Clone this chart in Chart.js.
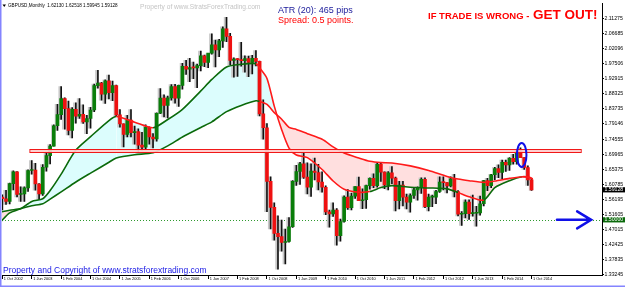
<!DOCTYPE html>
<html>
<head>
<meta charset="utf-8">
<title>GBPUSD Monthly</title>
<script src="https://cdn.jsdelivr.net/npm/chart.js@4.4.1/dist/chart.umd.min.js"></script>
<style>
  html, body { margin: 0; padding: 0; background: #fff; }
  canvas { display: block; }
</style>
</head>
<body>
<canvas id="chart" width="625" height="287"></canvas>
<script>
// GBPUSD monthly candles, index 0 = Oct 2002 ... index 144 = Oct 2014
const opens = [
  1.5690, 1.5640, 1.5560,
  1.6100, 1.6460, 1.5770, 1.5790, 1.5970, 1.6500, 1.6510, 1.6090, 1.5790, 1.6600, 1.6950, 1.7240,
  1.7860, 1.8200, 1.8690, 1.8380, 1.7720, 1.8360, 1.8150, 1.8210, 1.7980, 1.8080, 1.8340, 1.9080,
  1.9160, 1.8820, 1.9230, 1.8870, 1.9080, 1.8190, 1.7920, 1.7600, 1.8030, 1.7650, 1.7680, 1.7270,
  1.7210, 1.7810, 1.7520, 1.7460, 1.8240, 1.8700, 1.8480, 1.8710, 1.9050, 1.8700, 1.9090, 1.9670,
  1.9580, 1.9630, 1.9620, 1.9690, 1.9990, 1.9790, 2.0070, 2.0320, 2.0170, 2.0440, 2.0810, 2.0580,
  1.9850, 1.9890, 1.9870, 1.9840, 1.9900, 1.9790, 1.9910, 1.9820, 1.8220, 1.7800, 1.6170, 1.5380,
  1.4590, 1.4490, 1.4310, 1.4340, 1.4790, 1.6170, 1.6470, 1.6700, 1.6300, 1.5990, 1.6480, 1.6440,
  1.6150, 1.5990, 1.5240, 1.5180, 1.5300, 1.4520, 1.4950, 1.5690, 1.5370, 1.5720, 1.6010, 1.5580,
  1.5610, 1.6040, 1.6260, 1.6040, 1.6690, 1.6450, 1.6060, 1.6430, 1.6270, 1.5580, 1.6060, 1.5690,
  1.5540, 1.5740, 1.5910, 1.5990, 1.6230, 1.5400, 1.5690, 1.5690, 1.5860, 1.6150, 1.6130, 1.6030,
  1.6250, 1.5860, 1.5170, 1.5190, 1.5540, 1.5190, 1.5200, 1.5210, 1.5490, 1.6190, 1.6040, 1.6370,
  1.6560, 1.6440, 1.6750, 1.6670, 1.6870, 1.6770, 1.7100, 1.6890, 1.6590, 1.6213
];
const highs = [
  1.5760, 1.5900, 1.6120,
  1.6490, 1.6470, 1.6000, 1.6000, 1.6520, 1.6800, 1.6720, 1.6100, 1.6680, 1.7050, 1.7290, 1.7890,
  1.8510, 1.9050, 1.8710, 1.8610, 1.8410, 1.8560, 1.8690, 1.8500, 1.8180, 1.8420, 1.9130, 1.9550,
  1.9180, 1.9260, 1.9400, 1.9220, 1.9100, 1.8350, 1.7920, 1.8180, 1.8350, 1.7850, 1.7770, 1.7660,
  1.7890, 1.7830, 1.7620, 1.8250, 1.8990, 1.8800, 1.8760, 1.9110, 1.9120, 1.9100, 1.9760, 1.9850,
  1.9910, 1.9800, 1.9740, 2.0130, 2.0010, 2.0050, 2.0660, 2.0470, 2.0490, 2.0870, 2.1160, 2.0670,
  1.9930, 1.9900, 2.0400, 1.9990, 1.9980, 2.0000, 2.0150, 1.9830, 1.8650, 1.7930, 1.6310, 1.5520,
  1.5120, 1.4990, 1.4720, 1.5070, 1.6190, 1.6660, 1.6750, 1.7040, 1.6730, 1.6700, 1.6880, 1.6690,
  1.6460, 1.6030, 1.5300, 1.5520, 1.5340, 1.5020, 1.5730, 1.5920, 1.5810, 1.6010, 1.6300, 1.5940,
  1.6060, 1.6280, 1.6400, 1.6740, 1.6750, 1.6460, 1.6470, 1.6620, 1.6300, 1.6170, 1.6170, 1.5780,
  1.5790, 1.5960, 1.6000, 1.6280, 1.6280, 1.5780, 1.5750, 1.5900, 1.6310, 1.6310, 1.6130, 1.6310,
  1.6380, 1.5890, 1.5250, 1.5610, 1.5610, 1.5750, 1.5410, 1.5720, 1.6200, 1.6260, 1.6380, 1.6600,
  1.6670, 1.6820, 1.6820, 1.6890, 1.6990, 1.7110, 1.7190, 1.6890, 1.6640, 1.6252
];
const lows = [
  1.5300, 1.5470, 1.5480,
  1.5910, 1.5700, 1.5560, 1.5560, 1.5860, 1.6390, 1.5900, 1.5620, 1.5740, 1.6480, 1.6700, 1.7240,
  1.7720, 1.8050, 1.7760, 1.7580, 1.7490, 1.7940, 1.8080, 1.7930, 1.7620, 1.7790, 1.8290, 1.9000,
  1.8640, 1.8540, 1.8680, 1.8620, 1.8150, 1.7820, 1.7220, 1.7520, 1.7520, 1.7300, 1.7060, 1.7120,
  1.7130, 1.7300, 1.7190, 1.7390, 1.8230, 1.8130, 1.8100, 1.8640, 1.8550, 1.8450, 1.8970, 1.9420,
  1.9200, 1.9290, 1.9020, 1.9530, 1.9660, 1.9630, 2.0040, 1.9650, 1.9960, 2.0240, 2.0420, 1.9720,
  1.9340, 1.9360, 1.9670, 1.9490, 1.9350, 1.9440, 1.9680, 1.8160, 1.7450, 1.5250, 1.4720, 1.4380,
  1.3500, 1.4050, 1.3660, 1.4320, 1.4770, 1.6050, 1.6080, 1.6260, 1.5790, 1.5710, 1.6210, 1.5910,
  1.5840, 1.5160, 1.4780, 1.5100, 1.4230, 1.4350, 1.4930, 1.5320, 1.5300, 1.5650, 1.5580, 1.5340,
  1.5350, 1.5930, 1.5980, 1.5990, 1.6170, 1.5950, 1.5910, 1.6100, 1.5270, 1.5330, 1.5420, 1.5330,
  1.5230, 1.5650, 1.5600, 1.5800, 1.5370, 1.5270, 1.5400, 1.5490, 1.5830, 1.5910, 1.5820, 1.6000,
  1.5700, 1.5120, 1.4830, 1.5060, 1.5010, 1.5110, 1.4810, 1.5140, 1.5420, 1.5890, 1.5980, 1.6220,
  1.6280, 1.6250, 1.6470, 1.6500, 1.6690, 1.6690, 1.6890, 1.6530, 1.6050, 1.5895
];
const closes = [
  1.5640, 1.5560, 1.6100,
  1.6460, 1.5770, 1.5790, 1.5970, 1.6500, 1.6510, 1.6090, 1.5790, 1.6600, 1.6950, 1.7240, 1.7860,
  1.8200, 1.8690, 1.8380, 1.7720, 1.8360, 1.8150, 1.8210, 1.7980, 1.8080, 1.8340, 1.9080, 1.9160,
  1.8820, 1.9230, 1.8870, 1.9080, 1.8190, 1.7920, 1.7600, 1.8030, 1.7650, 1.7680, 1.7270, 1.7210,
  1.7810, 1.7520, 1.7460, 1.8240, 1.8700, 1.8480, 1.8710, 1.9050, 1.8700, 1.9090, 1.9670, 1.9580,
  1.9630, 1.9620, 1.9690, 1.9990, 1.9790, 2.0070, 2.0320, 2.0170, 2.0440, 2.0810, 2.0580, 1.9850,
  1.9890, 1.9870, 1.9840, 1.9900, 1.9790, 1.9910, 1.9820, 1.8220, 1.7800, 1.6170, 1.5380, 1.4590,
  1.4490, 1.4310, 1.4340, 1.4790, 1.6170, 1.6470, 1.6700, 1.6300, 1.5990, 1.6480, 1.6440, 1.6150,
  1.5990, 1.5240, 1.5180, 1.5300, 1.4520, 1.4950, 1.5690, 1.5370, 1.5720, 1.6010, 1.5580, 1.5610,
  1.6040, 1.6260, 1.6040, 1.6690, 1.6450, 1.6060, 1.6430, 1.6270, 1.5580, 1.6060, 1.5690, 1.5540,
  1.5740, 1.5910, 1.5990, 1.6230, 1.5400, 1.5690, 1.5690, 1.5860, 1.6150, 1.6130, 1.6030, 1.6250,
  1.5860, 1.5170, 1.5190, 1.5540, 1.5190, 1.5200, 1.5210, 1.5490, 1.6190, 1.6040, 1.6370, 1.6560,
  1.6440, 1.6750, 1.6670, 1.6870, 1.6770, 1.7100, 1.6890, 1.6590, 1.6210, 1.5913
];

// the two moving averages (month index -> price)
const maMonths = [-0.5, 2, 5, 8, 11, 13, 16, 20, 24, 29, 31, 36, 41, 45, 49, 54, 57, 61, 65, 69, 70, 72, 74, 76, 78, 80,
  83, 87, 90, 93, 97, 100, 103, 106, 111, 116, 121, 124, 127, 131, 134, 138, 141.5, 143.5, 144.3];
const fastMA = [1.494, 1.521, 1.534, 1.556, 1.564, 1.589, 1.639, 1.712, 1.753, 1.802, 1.814, 1.797, 1.780, 1.805, 1.836,
  1.892, 1.927, 1.965, 1.973, 1.975, 1.962, 1.930, 1.845, 1.774, 1.718, 1.697, 1.689, 1.653, 1.618, 1.593, 1.584,
  1.586, 1.598, 1.604, 1.599, 1.597, 1.594, 1.583, 1.570, 1.560, 1.598, 1.619, 1.631, 1.629, 1.624];
const slowMA = [1.524, 1.529, 1.534, 1.543, 1.549, 1.563, 1.585, 1.615, 1.642, 1.675, 1.688, 1.698, 1.704, 1.725, 1.752,
  1.781, 1.798, 1.829, 1.848, 1.862, 1.860, 1.851, 1.826, 1.806, 1.781, 1.775, 1.762, 1.745, 1.722, 1.703, 1.688,
  1.678, 1.674, 1.673, 1.664, 1.650, 1.632, 1.624, 1.619, 1.614, 1.618, 1.626, 1.631, 1.628, 1.624];

// axis ticks
const xTickMonths = [0, 8, 16, 24, 32, 40, 48, 56, 64, 72, 80, 88, 96, 104, 112, 120, 128, 136, 144];
const xTickLabels = ['1 Oct 2002', '1 Jun 2003', '1 Feb 2004', '1 Oct 2004', '1 Jun 2005', '1 Feb 2006',
  '1 Oct 2006', '1 Jun 2007', '1 Feb 2008', '1 Oct 2008', '1 Jun 2009', '1 Feb 2010', '1 Oct 2010',
  '1 Jun 2011', '1 Feb 2012', '1 Oct 2012', '1 Jun 2013', '1 Feb 2014', '1 Oct 2014'];
const yTickValues = [2.11275, 2.06685, 2.02096, 1.97506, 1.92915, 1.88325, 1.83735, 1.79146, 1.74555,
  1.69965, 1.65375, 1.60785, 1.56195, 1.51605, 1.47015, 1.42425, 1.37835, 1.33245];

// drawn objects
const zonePrices = [1.7168, 1.7048];
const zoneMonths = [7.5, 157.5];
const levelPrice = 1.5;
const circleMonth = 141.3;
const circlePrice = 1.6973;
const arrowMonths = [150.9, 160.2];
const lastPrice = 1.59128;

const GREEN = '#0b6a0b';
const RED = '#ff1a1a';
const fastRedSpans = [[30.5, 41.5], [69.3, 99.5], [123.2, 131], [142.4, 150]];
const slowRedSpans = [[69.8, 150]];

function inSpans(spans, m) {
    return spans.some(s => m >= s[0] && m <= s[1]);
}
function segColor(spans) {
    return c => inSpans(spans, (c.p0.parsed.x + c.p1.parsed.x) / 2) ? RED : GREEN;
}

const bodyData = opens.map((o, i) => ({x: i, y: [o, closes[i]]}));
const wickData = opens.map((o, i) => ({x: i, y: [lows[i], highs[i]]}));
const shadowData = opens.map((o, i) => ({x: i - 0.38, y: [lows[i], highs[i]]}));

const overlays = {
    id: 'overlays',
    beforeDatasetsDraw(chart) {
        const {ctx, chartArea: a, scales: {x, y}} = chart;
        ctx.save();
        ctx.strokeStyle = '#2f9a2f';
        ctx.lineWidth = 1;
        ctx.setLineDash([1, 2]);
        const ly = Math.round(y.getPixelForValue(levelPrice)) + 0.5;
        ctx.beginPath();
        ctx.moveTo(a.left, ly);
        ctx.lineTo(a.right, ly);
        ctx.stroke();
        ctx.restore();
    },
    afterDatasetsDraw(chart) {
        const {ctx, scales: {x, y}} = chart;
        ctx.save();
        // horizontal zone
        const zx0 = x.getPixelForValue(zoneMonths[0]);
        const zx1 = x.getPixelForValue(zoneMonths[1]);
        const zy0 = Math.round(y.getPixelForValue(zonePrices[0])) + 0.5;
        const zy1 = Math.round(y.getPixelForValue(zonePrices[1])) + 0.5;
        ctx.fillStyle = 'rgba(255, 235, 235, 0.85)';
        ctx.fillRect(zx0, zy0, zx1 - zx0, zy1 - zy0);
        ctx.strokeStyle = '#f01818';
        ctx.lineWidth = 1;
        ctx.strokeRect(zx0, zy0, zx1 - zx0, zy1 - zy0);
        ctx.strokeStyle = '#ffb0b0';
        ctx.beginPath();
        ctx.moveTo(zx0 + 1, zy0 + 1.5);
        ctx.lineTo(zx1 - 1, zy0 + 1.5);
        ctx.stroke();

        // blue ellipse around the July 2014 candle
        ctx.strokeStyle = '#1010e8';
        ctx.lineWidth = 2;
        ctx.beginPath();
        ctx.ellipse(x.getPixelForValue(circleMonth), y.getPixelForValue(circlePrice), 4.8, 12, 0, 0, Math.PI * 2);
        ctx.stroke();

        // blue arrow pointing at the 1.50000 level
        const ay = y.getPixelForValue(levelPrice);
        const ax0 = x.getPixelForValue(arrowMonths[0]);
        const ax1 = x.getPixelForValue(arrowMonths[1]);
        ctx.lineWidth = 2.5;
        ctx.lineCap = 'round';
        ctx.beginPath();
        ctx.moveTo(ax0, ay);
        ctx.lineTo(ax1, ay);
        ctx.moveTo(ax1 - 14, ay - 8.5);
        ctx.lineTo(ax1, ay);
        ctx.lineTo(ax1 - 14, ay + 8.5);
        ctx.stroke();
        ctx.restore();
    },
    afterDraw(chart) {
        const {ctx, chartArea: a, scales: {y}} = chart;
        ctx.save();
        ctx.textBaseline = 'middle';
        ctx.textAlign = 'left';

        // price boxes on the right axis
        const boxes = [[lastPrice, '#000000'], [levelPrice, '#0b6a0b']];
        ctx.font = '5.2px "Liberation Sans"';
        boxes.forEach(([p, bg]) => {
            const py = y.getPixelForValue(p);
            ctx.fillStyle = bg;
            ctx.fillRect(a.right + 1, py - 2.6, 22, 5.2);
            ctx.fillStyle = '#ffffff';
            ctx.fillText(p.toFixed(5), a.right + 2.5, py);
        });

        // header
        ctx.fillStyle = '#000';
        ctx.beginPath();
        ctx.moveTo(2.5, 4.5);
        ctx.lineTo(6, 4.5);
        ctx.lineTo(4.25, 7);
        ctx.closePath();
        ctx.fill();
        ctx.font = '4.6px "Liberation Sans"';
        ctx.fillText('GBPUSD,Monthly  1.62130 1.62518 1.59945 1.59128', 8, 6);

        ctx.fillStyle = '#c4c4c4';
        ctx.font = '6.6px "Liberation Sans"';
        ctx.fillText('Property of www.StratsForexTrading.com', 140, 7);

        ctx.fillStyle = '#1a1a9a';
        ctx.font = '9px "Liberation Sans"';
        ctx.fillText('ATR (20): 465 pips', 278, 10.5);
        ctx.fillStyle = '#ff0000';
        ctx.fillText('Spread: 0.5 points.', 278, 20.5);

        ctx.font = 'bold 9.5px "Liberation Sans"';
        const part1 = 'IF TRADE IS WRONG - ';
        ctx.fillText(part1, 428, 16.5);
        const w1 = ctx.measureText(part1).width;
        ctx.font = 'bold 13.5px "Liberation Sans"';
        ctx.fillText('GET OUT!', 428 + w1 + 1, 15.5);

        ctx.fillStyle = '#2020e6';
        ctx.font = '8.5px "Liberation Sans"';
        ctx.fillText('Property and Copyright of www.stratsforextrading.com', 3, 271);

        // window frame
        ctx.fillStyle = '#8484ff';
        ctx.fillRect(0, 0, 1.5, 287);
        ctx.fillRect(0, 285.5, 625, 1.5);
        ctx.restore();
    }
};

const ctx = document.getElementById('chart').getContext('2d');
new Chart(ctx, {
    type: 'bar',
    data: {
        datasets: [
            {
                type: 'line',
                data: maMonths.map((m, i) => ({x: m, y: slowMA[i]})),
                borderColor: GREEN,
                borderWidth: 1.6,
                pointRadius: 0,
                tension: 0.25,
                fill: false,
                segment: {borderColor: segColor(slowRedSpans)}
            },
            {
                type: 'line',
                data: maMonths.map((m, i) => ({x: m, y: fastMA[i]})),
                borderColor: GREEN,
                borderWidth: 1.6,
                pointRadius: 0,
                tension: 0.25,
                fill: {target: 0, above: '#dcfdfd', below: '#ffdfdf'},
                segment: {borderColor: segColor(fastRedSpans)}
            },
            {
                data: bodyData,
                backgroundColor: bodyData.map(d => d.y[1] >= d.y[0] ? '#0a7d0a' : '#ee1111'),
                barThickness: 3,
                minBarLength: 1,
                grouped: false
            },
            {
                data: wickData,
                backgroundColor: '#111',
                barThickness: 1,
                grouped: false
            },
            {
                data: shadowData,
                backgroundColor: '#c8c8c8',
                barThickness: 2,
                grouped: false
            }
        ]
    },
    options: {
        responsive: false,
        animation: false,
        events: [],
        devicePixelRatio: 1,
        layout: {padding: {left: 2, top: 1, right: 0, bottom: 0}},
        plugins: {
            legend: {display: false},
            tooltip: {enabled: false},
            filler: {drawTime: 'beforeDatasetsDraw'}
        },
        scales: {
            x: {
                type: 'linear',
                min: -0.1,
                max: 163.16,
                offset: false,
                bounds: 'data',
                afterBuildTicks: s => { s.ticks = xTickMonths.map(v => ({value: v})); },
                afterFit: s => { s.height = 12; },
                ticks: {
                    autoSkip: false,
                    maxRotation: 0,
                    align: 'start',
                    labelOffset: 1.5,
                    padding: -2,
                    color: '#000',
                    font: {family: 'Liberation Sans', size: 3.9},
                    callback: (v, i) => xTickLabels[i]
                },
                grid: {drawOnChartArea: false, offset: false, tickLength: 4, tickColor: '#000', color: '#000'},
                border: {display: true, color: '#000', width: 1}
            },
            y: {
                position: 'right',
                min: 1.3322,
                max: 2.1575,
                bounds: 'data',
                afterBuildTicks: s => { s.ticks = yTickValues.map(v => ({value: v})); },
                afterFit: s => { s.width = 23; },
                ticks: {
                    autoSkip: false,
                    padding: 0.5,
                    color: '#000',
                    font: {family: 'Liberation Sans', size: 5.2},
                    callback: v => v.toFixed(5)
                },
                grid: {drawOnChartArea: false, tickLength: 2, tickColor: '#000', color: '#000'},
                border: {display: true, color: '#000', width: 1}
            }
        }
    },
    plugins: [overlays]
});
</script>
</body>
</html>
